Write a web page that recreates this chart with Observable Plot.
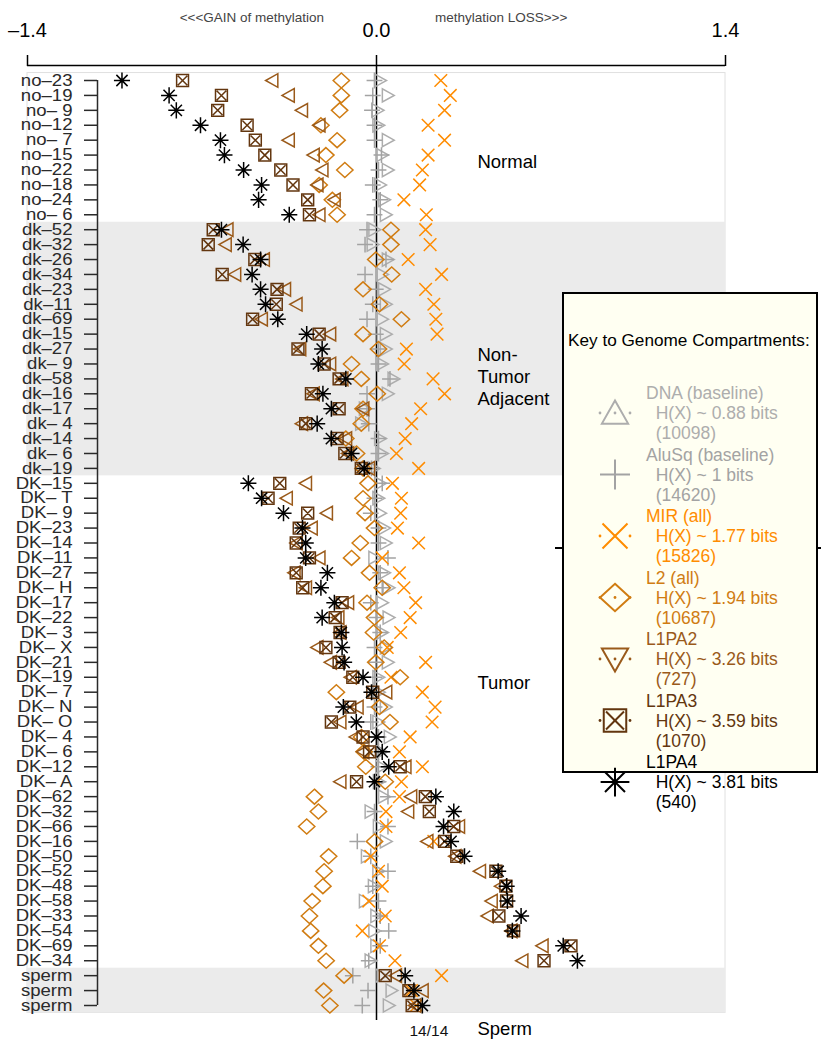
<!DOCTYPE html>
<html><head><meta charset="utf-8">
<script src="https://cdn.jsdelivr.net/npm/d3@7"></script>
<script src="https://cdn.jsdelivr.net/npm/@observablehq/plot@0.6"></script>
<style>
body{margin:0;background:#fff;font-family:"Liberation Sans",Arial,Helvetica,sans-serif;}
#wrap{position:relative;width:821px;height:1050px;overflow:hidden;background:#fff}
#wrap svg text{white-space:pre}
#legend{position:absolute;left:562px;top:292px;width:252px;height:477px;border:2px solid #000;background:#fffff2;}
#sideline{position:absolute;left:555px;top:547px;width:266px;height:2px;background:#000}
.lt{position:absolute;font-size:17.5px;line-height:20px;white-space:pre}
</style></head><body><div id="wrap"></div>
<script>
// ---------- data ----------
const rowLabels = ["no–23","no–19","no– 9","no–12","no– 7","no–15","no–22","no–18","no–24","no– 6",
 "dk–52","dk–32","dk–26","dk–34","dk–23","dk–11","dk–69","dk–15","dk–27","dk– 9","dk–58","dk–16","dk–17","dk– 4","dk–14","dk– 6","dk–19",
 "DK–15","DK– T","DK– 9","DK–23","DK–14","DK–11","DK–27","DK– H","DK–17","DK–22","DK– 3","DK– X","DK–21","DK–19","DK– 7","DK– N","DK– O","DK– 4","DK– 6","DK–12","DK– A",
 "DK–62","DK–32","DK–66","DK–16","DK–50","DK–52","DK–48","DK–58","DK–33","DK–54","DK–69","DK–34",
 "sperm","sperm","sperm"];
const dna   = [0.015,0.046,0.005,0.008,0.046,0.023,0.046,0.015,0.031,0.038,
 -0.008,-0.015,0.046,0.023,0.031,0.038,0.023,0.038,0.038,0.023,0.069,0.046,-0.046,-0.061,0.015,0.023,-0.010,
 0.015,0.008,0.015,0.031,0.038,-0.008,0.031,0.049,0.023,0.049,0.023,0.038,0.046,0.008,0.010,0.038,0.008,0.054,0.020,0.020,0.010,
 0.031,-0.023,0.010,0.038,-0.038,0.008,-0.010,-0.046,0.000,-0.008,0.000,-0.023,
 0.020,0.061,0.050];
const aluSq = [-0.008,-0.015,-0.018,-0.008,-0.008,0.020,0.008,-0.015,0.015,-0.008,
 -0.038,-0.046,0.038,-0.046,-0.003,-0.015,-0.038,-0.003,0.008,0.008,0.054,-0.038,-0.038,-0.031,0.008,0.008,-0.020,
 0.023,-0.008,-0.023,0.008,0.008,0.046,0.015,0.023,-0.023,0.000,0.015,-0.008,-0.003,-0.008,-0.015,-0.008,-0.023,0.008,0.008,0.008,0.008,
 0.046,-0.008,0.046,-0.077,-0.023,0.046,-0.015,0.008,0.015,0.049,0.015,-0.031,
 -0.095,-0.034,-0.057];
const mir   = [0.258,0.296,0.273,0.207,0.273,0.207,0.184,0.173,0.110,0.200,
 0.197,0.215,0.127,0.261,0.197,0.230,0.238,0.243,0.120,0.111,0.227,0.273,0.177,0.141,0.115,0.080,0.169,
 0.064,0.100,0.097,0.084,0.169,0.023,0.092,0.110,0.157,0.135,0.097,0.043,0.197,0.058,0.184,0.235,0.223,0.135,0.092,0.184,0.100,
 0.092,0.038,0.038,0.230,-0.023,0.008,0.023,-0.031,0.035,-0.057,0.012,0.074,
 0.261,0.140,0.160];
const l2    = [-0.141,-0.141,-0.148,-0.223,-0.158,-0.203,-0.127,-0.230,-0.177,-0.158,
 0.058,0.058,-0.003,0.061,-0.054,0.012,0.100,-0.054,0.008,-0.100,-0.061,0.003,-0.054,-0.061,-0.123,-0.080,-0.054,
 -0.034,-0.054,-0.046,-0.008,-0.065,-0.100,-0.028,0.023,-0.038,-0.008,-0.012,0.031,-0.003,0.095,-0.161,0.012,0.054,-0.060,-0.050,-0.043,0.035,
 -0.249,-0.233,-0.280,-0.008,-0.192,-0.210,-0.215,-0.258,-0.269,-0.264,-0.233,-0.202,
 -0.130,-0.212,-0.187];
const l1pa2 = [-0.419,-0.353,-0.300,-0.230,-0.353,-0.253,-0.218,-0.238,-0.169,-0.230,
 -0.599,-0.606,-0.453,-0.568,-0.368,-0.322,-0.461,-0.187,-0.307,-0.187,-0.138,-0.253,-0.054,-0.300,-0.123,-0.115,-0.031,
 -0.284,-0.361,-0.200,-0.261,-0.322,-0.230,-0.330,-0.284,-0.115,-0.154,-0.146,-0.238,-0.184,-0.104,0.038,-0.077,-0.146,-0.084,-0.054,0.115,-0.146,
 0.138,0.126,0.330,0.203,0.315,0.414,0.499,0.461,0.445,0.540,0.665,0.584,
 0.077,0.184,0.154];
const l1pa3 = [-0.778,-0.622,-0.637,-0.519,-0.486,-0.448,-0.384,-0.335,-0.276,-0.269,
 -0.655,-0.675,-0.488,-0.619,-0.399,-0.402,-0.497,-0.230,-0.315,-0.210,-0.150,-0.261,-0.150,-0.284,-0.158,-0.127,-0.061,
 -0.388,-0.435,-0.276,-0.310,-0.322,-0.269,-0.322,-0.296,-0.138,-0.166,-0.146,-0.203,-0.150,-0.095,-0.015,-0.107,-0.181,-0.054,-0.028,0.095,-0.080,
 0.196,0.212,0.310,0.273,0.322,0.479,0.519,0.522,0.491,0.550,0.780,0.672,
 0.035,0.130,0.143];
const l1pa4 = [-1.021,-0.832,-0.803,-0.706,-0.626,-0.610,-0.533,-0.461,-0.473,-0.350,
 -0.622,-0.535,-0.465,-0.499,-0.465,-0.445,-0.396,-0.280,-0.218,-0.233,-0.123,-0.215,-0.181,-0.238,-0.181,-0.100,-0.049,
 -0.514,-0.461,-0.373,-0.297,-0.284,-0.284,-0.197,-0.223,-0.169,-0.218,-0.141,-0.138,-0.130,-0.054,-0.020,-0.133,-0.081,0.000,0.023,0.049,-0.008,
 0.238,0.310,0.269,0.299,0.353,0.488,0.522,0.525,0.580,0.545,0.749,0.806,
 0.115,0.150,0.184];
const shadedGroups = [{first: 10, last: 26}, {first: 60, last: 62}];
const groupLabels = ["Normal", "Non-\nTumor\nAdjacent", "Tumor", "Sperm"];
const groupLabelRows = [5.4, 19.8, 40.3, 63.5];
const topTitles = ["<<<GAIN of methylation", "methylation LOSS>>>"];
const topTitleX = [-0.5, 0.5];
const xTicks = [-1.4, 0, 1.4];
const countNote = "14/14";
const legendNames = ["DNA (baseline)","AluSq (baseline)","MIR (all)","L2 (all)","L1PA2","L1PA3","L1PA4"];
const legendBits = ["0.88","1","1.77","1.94","3.26","3.59","3.81"];
const legendCounts = ["10098","14620","15826","10687","727","1070","540"];
const colors = ["#adadad","#a3a3a3","#ff8c00","#d07c12","#9a5a1a","#63360f","#000000"];

// ---------- symbols ----------
function sym(fn){ return {draw(c, size){ fn(c, Math.sqrt(size/Math.PI)); }}; }
const triRight = sym((c,r)=>{c.moveTo(-0.85*r,-r);c.lineTo(-0.85*r,r);c.lineTo(0.95*r,0);c.closePath();});
const triLeft  = sym((c,r)=>{c.moveTo(0.85*r,-r);c.lineTo(0.85*r,r);c.lineTo(-0.95*r,0);c.closePath();});
const triUp    = sym((c,r)=>{c.moveTo(0,-r);c.lineTo(1.05*r,0.85*r);c.lineTo(-1.05*r,0.85*r);c.closePath();});
const triDown  = sym((c,r)=>{c.moveTo(0,r);c.lineTo(1.05*r,-0.85*r);c.lineTo(-1.05*r,-0.85*r);c.closePath();});
const diamond  = sym((c,r)=>{c.moveTo(0,-1.1*r);c.lineTo(1.2*r,0);c.lineTo(0,1.1*r);c.lineTo(-1.2*r,0);c.closePath();});
const plus     = sym((c,r)=>{c.moveTo(-1.2*r,0);c.lineTo(1.2*r,0);c.moveTo(0,-1.2*r);c.lineTo(0,1.2*r);});
const times    = sym((c,r)=>{c.moveTo(-r,-r);c.lineTo(r,r);c.moveTo(-r,r);c.lineTo(r,-r);});
const boxX     = sym((c,r)=>{const a=0.9*r;c.moveTo(-a,-a);c.lineTo(a,-a);c.lineTo(a,a);c.lineTo(-a,a);c.closePath();const b=a*0.8;c.moveTo(-b,-b);c.lineTo(b,b);c.moveTo(-b,b);c.lineTo(b,-b);});
const aster    = sym((c,r)=>{const a=1.15*r,d=0.8*r;c.moveTo(-a,0);c.lineTo(a,0);c.moveTo(0,-a);c.lineTo(0,a);c.moveTo(-d,-d);c.lineTo(d,d);c.moveTo(-d,d);c.lineTo(d,-d);});

const series = [dna, aluSq, mir, l2, l1pa2, l1pa3, l1pa4];
const plotSymbols = [triRight, plus, times, diamond, triLeft, boxX, aster];
const legendSymbols = [triUp, plus, times, diamond, triDown, boxX, aster];
const markerR = [6.6, 6.6, 6.3, 6.8, 6.8, 6.6, 7];

const fmtX = d => d3.format(".1f")(d).replace("−","–").replace("-","–");

const chart = Plot.plot({
  width: 821, height: 1050,
  marginTop: 65, marginBottom: 30, marginLeft: 27, marginRight: 96,
  style: {fontFamily: "'Liberation Sans', Arial, Helvetica, sans-serif", background: "transparent", overflow: "visible"},
  x: {domain: [-1.4, 1.4], range: [27, 725]},
  y: {type: "linear", domain: [0, rowLabels.length - 1], range: [80, 1005]},
  marks: [
    Plot.rect([0], {x1: () => -1.4, x2: () => 1.4, y1: () => -0.5, y2: () => rowLabels.length - 0.5, fill: "white", stroke: "#e0e0e0"}),
    Plot.rect(shadedGroups, {x1: () => -1.4, x2: () => 1.4, y1: d => d.first - 0.5, y2: d => d.last + 0.5, fill: "#ebebeb"}),
    Plot.ruleY([-1], {x1: () => -1.4, x2: () => 1.4, stroke: "black", strokeWidth: 1.5}),
    Plot.axisX({anchor: "top", ticks: xTicks, tickSize: 11, tickPadding: 18, tickFormat: fmtX, fontSize: 20, color: "black", strokeWidth: 1.5, label: null}),
    Plot.axisY({anchor: "left", ticks: d3.range(rowLabels.length), tickFormat: i => rowLabels[i], tickSize: 13, tickPadding: 12, dx: 70, fontSize: 16.3, color: "#2a2a2a", strokeWidth: 1.5, label: null}),
    Plot.ruleX([-1.4], {y1: () => 0, y2: () => rowLabels.length - 1, dx: 70, stroke: "#2a2a2a", strokeWidth: 1.5}),
    Plot.ruleX([0], {stroke: "black", strokeWidth: 1.5}),
    ...series.map((s, k) => Plot.dot(s, {x: d => d, y: (d, i) => i, symbol: plotSymbols[k], r: markerR[k], fill: "none", stroke: colors[k], strokeWidth: 1.5})),
    Plot.text(topTitles, {x: topTitleX, frameAnchor: "top", dy: -53, fontSize: 13.5, fill: "#444"}),
    Plot.text(groupLabels, {x: () => 0.405, y: (d, i) => groupLabelRows[i], textAnchor: "start", fontSize: 18.5, lineHeight: 1.2, fill: "black"}),
    Plot.text([countNote], {x: () => 0.21, y: () => 63.7, fontSize: 15.5, fill: "#111"})
  ]
});

const wrap = document.getElementById("wrap");
chart.style.position = "absolute"; chart.style.left = "0"; chart.style.top = "0";
wrap.appendChild(chart);

// stretch the row labels horizontally like the original
d3.select(chart).selectAll("g[aria-label='y-axis tick label'] text").each(function(){
  const t = d3.select(this);
  let tr = t.attr("transform");
  if (!tr) { tr = `translate(${t.attr("x")||0},${t.attr("y")||0})`; t.attr("x", null).attr("y", null); }
  t.attr("transform", tr + " scale(1.14,1)");
});

// ---------- legend ----------
const w = d3.select(wrap);
w.append("div").attr("id","sideline");
w.append("div").attr("id","legend");
w.append("div").attr("class","lt").style("left","568px").style("top","330px").style("font-size","17.2px").style("color","#000").text("Key to Genome Compartments:");
const lsvg = w.append("svg").attr("width",821).attr("height",1050).style("position","absolute").style("left","0").style("top","0");
const dotted = [true, false, true, true, true, true, false];
legendNames.forEach((name, i) => {
  const top = 383 + 61.5 * i;
  const col = colors[i];
  w.append("div").attr("class","lt").style("left","646px").style("top", top + "px").style("color", col)
    .text(name + "\n  H(X) ~ " + legendBits[i] + " bits\n  (" + legendCounts[i] + ")");
  const cy = top + 30;
  if (dotted[i]) {
    [600, 615, 630].forEach(cx => lsvg.append("circle").attr("cx", cx).attr("cy", cy).attr("r", 1.4).attr("fill", col));
  }
  const p = d3.path(); legendSymbols[i].draw(p, 12.5 * 12.5 * Math.PI);
  lsvg.append("path").attr("d", p.toString()).attr("transform", `translate(615,${cy})`)
    .attr("fill","none").attr("stroke", col).attr("stroke-width", 2);
});
</script>
</body></html>
